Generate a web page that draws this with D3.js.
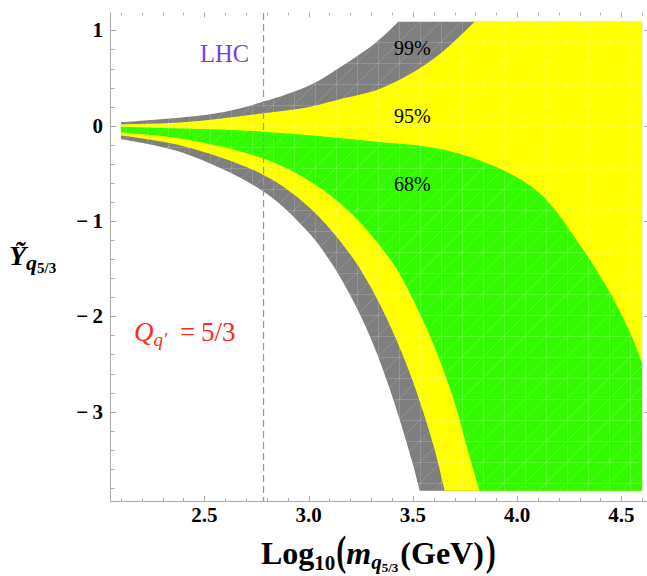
<!DOCTYPE html>
<html><head><meta charset="utf-8">
<script src="https://cdn.jsdelivr.net/npm/d3@7/dist/d3.min.js"></script>
<style>html,body{margin:0;padding:0;background:#fff}svg{display:block}</style>
</head><body>
<svg id="chart" width="647" height="576"></svg>
<script>
// ---- data (x = log10 mass, y = Y~) ----
const cl99UpperX = [2.1, 2.4, 2.6, 2.784, 3.008, 3.168, 3.328, 3.43];
const cl99UpperY = [0.037, 0.089, 0.148, 0.253, 0.428, 0.638, 0.882, 1.09];
const cl95UpperX = [2.1, 2.4, 2.784, 3.008, 3.168, 3.328, 3.485, 3.645, 3.796];
const cl95UpperY = [0.016, 0.037, 0.131, 0.20, 0.288, 0.376, 0.54, 0.78, 1.09];
const cl68UpperX = [2.1, 2.4, 2.784, 3.328, 3.645, 3.963, 4.126, 4.318, 4.447, 4.543, 4.6];
const cl68UpperY = [-0.01, -0.03, -0.062, -0.167, -0.25, -0.498, -0.744, -1.303, -1.755, -2.175, -2.49];
const cl68LowerX = [2.1, 2.4, 2.784, 3.0, 3.2, 3.4, 3.5, 3.6, 3.7, 3.76, 3.82];
const cl68LowerY = [-0.072, -0.14, -0.345, -0.575, -0.91, -1.43, -1.82, -2.30, -2.90, -3.38, -3.83];
const cl95LowerX = [2.1, 2.4, 2.784, 3.0, 3.2, 3.3, 3.4, 3.5, 3.6, 3.653];
const cl95LowerY = [-0.103, -0.215, -0.516, -0.85, -1.35, -1.70, -2.14, -2.68, -3.36, -3.83];
const cl99LowerX = [2.1, 2.4, 2.784, 3.0, 3.1, 3.2, 3.3, 3.4, 3.5, 3.533];
const cl99LowerY = [-0.141, -0.285, -0.69, -1.12, -1.41, -1.78, -2.24, -2.83, -3.55, -3.83];
const regionXMax = 4.6, regionYMax = 1.09, regionYMin = -3.83;
const lhcX = 2.784;
const xMajorTicks = [2.5, 3.0, 3.5, 4.0, 4.5];
const xTickLabels = ["2.5", "3.0", "3.5", "4.0", "4.5"];
const yMajorTicks = [1, 0, -1, -2, -3];
const yTickLabels = ["1", "0", "\u2212\u20091", "\u2212\u20092", "\u2212\u20093"];
const clLabels = ["99%", "95%", "68%"];
const clLabelX = [3.41, 3.41, 3.41];
const clLabelY = [0.745, 0.03, -0.69];

// ---- layout ----
const svg = d3.select("#chart");
const x = d3.scaleLinear().domain([2.0475, 4.62]).range([110, 646.3]);
const y = d3.scaleLinear().domain([-3.945, 1.185]).range([501.7, 12.8]);
const serif = "'Liberation Serif','Times New Roman',serif";

const pts = (xs, ys) => xs.map((v, i) => [v, ys[i]]);
const line = d3.line().x(d => x(d[0])).y(d => y(d[1])).curve(d3.curveCatmullRom.alpha(0.5));
function band(upper, corners, lower) {
  const lowRev = lower.slice().reverse();
  let p = line(upper);
  corners.forEach(c => { p += "L" + x(c[0]) + "," + y(c[1]); });
  p += line(lowRev).replace(/^M/, "L");
  return p + "Z";
}

// mesh texture pattern
const defs = svg.append("defs");
const pat = defs.append("pattern").attr("id", "mesh").attr("patternUnits", "userSpaceOnUse")
  .attr("width", 21).attr("height", 21);
pat.append("path").attr("d", "M0,0.5H21M0.5,0V21M0,21L21,0")
  .attr("stroke", "#fff").attr("stroke-opacity", 0.2).attr("stroke-width", 0.8).attr("fill", "none");

const bands = [
  { up: pts(cl99UpperX, cl99UpperY), lo: pts(cl99LowerX, cl99LowerY),
    corners: [[regionXMax, regionYMax], [regionXMax, regionYMin]], color: "#7f7f7f" },
  { up: pts(cl95UpperX, cl95UpperY), lo: pts(cl95LowerX, cl95LowerY),
    corners: [[regionXMax, regionYMax], [regionXMax, regionYMin]], color: "#ffff00" },
  { up: pts(cl68UpperX, cl68UpperY), lo: pts(cl68LowerX, cl68LowerY),
    corners: [[regionXMax, regionYMin]], color: "#33fa00" }
];
const gB = svg.append("g");
bands.forEach(b => {
  const d = band(b.up, b.corners, b.lo);
  gB.append("path").attr("d", d).attr("fill", b.color);
  gB.append("path").attr("d", d).attr("fill", "url(#mesh)");
});

// ---- frame & ticks ----
const axisCol = "#aaaaaa";
const g = svg.append("g").attr("stroke", axisCol).attr("stroke-width", 1).attr("fill", "none");
g.append("line").attr("x1", 110.5).attr("x2", 110.5).attr("y1", 12.5).attr("y2", 502);
g.append("line").attr("x1", 110).attr("x2", 647).attr("y1", 501.5).attr("y2", 501.5);
const xMinor = d3.range(21, 47).map(v => v / 10);
xMinor.forEach(v => {
  const major = xMajorTicks.some(t => Math.abs(t - v) < 1e-6);
  const px = Math.round(x(v)) + 0.5;
  g.append("line").attr("x1", px).attr("x2", px).attr("y1", 501.5).attr("y2", 501.5 - (major ? 5.5 : 3.5));
  g.append("line").attr("x1", px).attr("x2", px).attr("y1", 12.5).attr("y2", 12.5 + (major ? 5 : 3));
});
const yMinor = d3.range(-19, 6).map(v => v / 5);
yMinor.forEach(v => {
  const major = yMajorTicks.some(t => Math.abs(t - v) < 1e-6);
  const py = Math.round(y(v)) + 0.5;
  g.append("line").attr("x1", 110.5).attr("x2", 110.5 + (major ? 6 : 4)).attr("y1", py).attr("y2", py);
  if (major) g.append("line").attr("x1", 647).attr("x2", 644).attr("y1", py).attr("y2", py);
});

// tick labels
svg.append("g").selectAll("text").data(xMajorTicks).join("text")
  .attr("x", d => x(d)).attr("y", 521.5).attr("text-anchor", "middle")
  .attr("font-family", serif).attr("font-weight", "bold").attr("font-size", 21)
  .text((d, i) => xTickLabels[i]);
svg.append("g").selectAll("text").data(yMajorTicks).join("text")
  .attr("x", 103).attr("y", d => y(d) + 7).attr("text-anchor", "end")
  .attr("font-family", serif).attr("font-weight", "bold").attr("font-size", 21)
  .text((d, i) => yTickLabels[i]);

// LHC line & label
svg.append("line").attr("x1", x(lhcX)).attr("x2", x(lhcX)).attr("y1", 13).attr("y2", 501)
  .attr("stroke", "#9d86e0").attr("stroke-width", 1.2).attr("stroke-dasharray", "7,4");
svg.append("text").attr("x", 200).attr("y", 61.5).attr("font-family", serif)
  .attr("font-size", 24.5).attr("fill", "#7b3fd8").text("LHC");

// CL labels
svg.append("g").selectAll("text").data(clLabels).join("text")
  .attr("x", (d, i) => x(clLabelX[i])).attr("y", (d, i) => y(clLabelY[i]))
  .attr("font-family", serif).attr("font-size", 20).attr("fill", "#000").text(d => d);

// rich text helper
function rich(parent, x0, y0, pieces, fill) {
  let cx = x0;
  pieces.forEach(p => {
    const t = parent.append("text").attr("font-family", serif).attr("font-size", p.size)
      .attr("font-weight", p.bold ? "bold" : "normal").attr("font-style", p.italic ? "italic" : "normal")
      .attr("fill", fill).text(p.t);
    const by = y0 + (p.dy || 0);
    if (p.x !== undefined) cx = p.x;
    cx += (p.pre || 0);
    if (p.sy) t.attr("transform", `translate(${cx},${by}) scale(1,${p.sy})`);
    else t.attr("x", cx).attr("y", by);
    cx += t.node().getComputedTextLength() + (p.post || 0);
  });
}

// x-axis title
rich(svg.append("g"), 261, 564, [
  { t: "Log", size: 32, bold: true },
  { t: "10", size: 21, bold: true, dy: 6 },
  { t: "(", size: 30, bold: true, sy: 1.38, dy: 1, pre: 1 },
  { t: "m", size: 32, bold: true, italic: true },
  { t: "q", size: 21, bold: true, italic: true, dy: 5 },
  { t: "5/3", size: 13, bold: true, dy: 8 },
  { t: "(GeV)", size: 32, bold: true, pre: 2 },
  { t: ")", size: 30, bold: true, sy: 1.38, dy: 1, pre: 2 }
], "#000");

// y-axis title
rich(svg.append("g"), 9, 265, [
  { t: "\u1EF8", size: 28, bold: true, italic: true },
  { t: "q", size: 22, bold: true, italic: true, dy: 5, pre: 0 },
  { t: "5/3", size: 15, bold: true, dy: 8 }
], "#000");

// charge annotation
rich(svg.append("g"), 134, 340.5, [
  { t: "Q", size: 27, italic: true },
  { t: "q\u2032", size: 19, italic: true, dy: 5 },
  { t: "=", size: 27, x: 180 },
  { t: "5/3", size: 27, x: 201 }
], "#ff2a1a");
</script>
</body></html>
